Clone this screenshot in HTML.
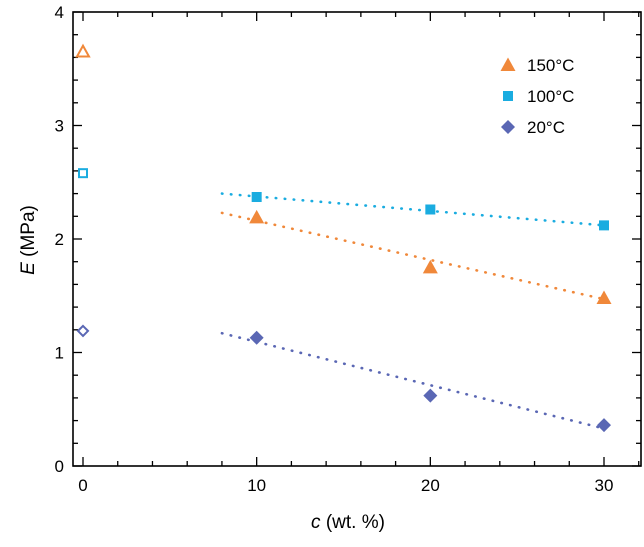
<!DOCTYPE html>
<html><head><meta charset="utf-8"><style>
body{margin:0;background:#fff}
svg{font-family:"Liberation Sans",Arial,sans-serif}
</style></head><body>
<svg id="chart" width="644" height="542"></svg>
<script>
const categories=[0,10,20,30];
const series150=[3.65,2.19,1.75,1.48];
const series100=[2.58,2.37,2.26,2.12];
const series20=[1.19,1.13,0.62,0.36];
const fit150=[[8,2.23],[30,1.47]];
const fit100=[[8,2.40],[30,2.12]];
const fit20=[[8,1.17],[30,0.33]];
const xTicks=[0,10,20,30];
const yTicks=[0,1,2,3,4];

const NS="http://www.w3.org/2000/svg";
const svg=document.getElementById('chart');
const L=73,R=641,T=12,B=466;
const X=v=>83+(v-0)*(604-83)/30;
const Y=v=>B-(v/4)*(B-T);
function el(tag,attrs,parent){const e=document.createElementNS(NS,tag);for(const k in attrs)e.setAttribute(k,attrs[k]);(parent||svg).appendChild(e);return e;}

const frame=el('rect',{x:L,y:T,width:R-L,height:B-T,fill:'none',stroke:'#000','stroke-width':1.6});



for(let v=0;v<=32;v+=2){
  const x=X(v);const major=v%10===0;
  const t=el('line',{x1:x,x2:x,y1:B,y2:B-(major?9:5),stroke:'#000','stroke-width':1.3});
  
  
  const t2=el('line',{x1:x,x2:x,y1:T,y2:T+(major?9:5),stroke:'#000','stroke-width':1.3});
  
  
}
xTicks.forEach(v=>{
  const t=el('text',{x:X(v),y:491,'text-anchor':'middle','font-size':17});
  t.textContent=v;
  
  
});
for(let i=0;i<=20;i++){
  const v=i*0.2;const y=Y(v);const major=i%5===0;
  const t=el('line',{x1:L,x2:L+(major?9:5),y1:y,y2:y,stroke:'#000','stroke-width':1.3});
  
  
  const t2=el('line',{x1:R,x2:R-(major?9:5),y1:y,y2:y,stroke:'#000','stroke-width':1.3});
  
  
}
yTicks.forEach(v=>{
  const t=el('text',{x:64,y:Y(v)+6,'text-anchor':'end','font-size':17});
  t.textContent=v;
  
  
});

const xl=el('text',{x:348,y:528,'text-anchor':'middle','font-size':19});
xl.innerHTML='<tspan font-style="italic">c</tspan> (wt. %)';


const yl=el('text',{x:0,y:0,'text-anchor':'middle','font-size':19,transform:'translate(34,240) rotate(-90)'});
yl.innerHTML='<tspan font-style="italic">E</tspan> (MPa)';



function fit(pts,color,name){
  const l=el('line',{x1:X(pts[0][0]),y1:Y(pts[0][1]),x2:X(pts[1][0]),y2:Y(pts[1][1]),stroke:color,'stroke-width':2.6,'stroke-dasharray':'0.5 8.5','stroke-linecap':'round'});
  
  
}
const C150='#f0883a',C100='#1aace0',C20='#5a67b4';
fit(fit150,C150,'fit-line-150c');
fit(fit100,C100,'fit-line-100c');
fit(fit20,C20,'fit-line-20c');

function marker(shape,x,y,color,open,name){
  let e;const sw=open?2:0,fill=open?'none':color;
  if(shape==='tri'){const s=open?6:7.5;e=el('polygon',{points:`${x},${y-s} ${x+s},${y+s*0.8} ${x-s},${y+s*0.8}`,fill,stroke:color,'stroke-width':sw});}
  else if(shape==='sq'){const s=open?4:5;e=el('rect',{x:x-s,y:y-s,width:2*s,height:2*s,fill,stroke:color,'stroke-width':sw});}
  else {const s=open?5:7;e=el('polygon',{points:`${x},${y-s} ${x+s},${y} ${x},${y+s} ${x-s},${y}`,fill,stroke:color,'stroke-width':sw});}
  
  
}
categories.forEach((c,i)=>{
  marker('tri',X(c),Y(series150[i]),C150,i===0,'point-150c');
  marker('sq',X(c),Y(series100[i]),C100,i===0,'point-100c');
  marker('dia',X(c),Y(series20[i]),C20,i===0,'point-20c');
});

[['tri',C150,'150°C',65],['sq',C100,'100°C',96],['dia',C20,'20°C',127]].forEach(([s,c,t,y])=>{
  marker(s,508,y,c,false,'legend-marker');
  const tx=el('text',{x:527,y:y+6,'font-size':17});
  tx.textContent=t;
  
  
});
</script>
</body></html>
